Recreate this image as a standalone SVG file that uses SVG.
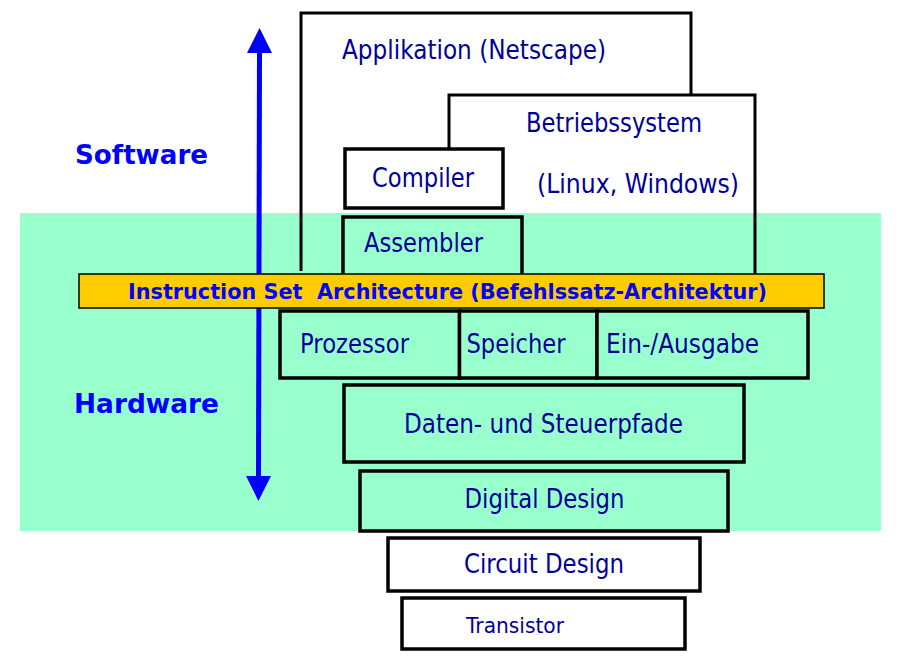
<svg xmlns="http://www.w3.org/2000/svg" width="909" height="656" viewBox="0 0 909 656">
<style>
.t{font-family:'DejaVu Sans','Liberation Sans',sans-serif;font-size:26px;fill:#000099}
.lbl{font-family:'DejaVu Sans','Liberation Sans',sans-serif;font-size:26px;font-weight:bold;fill:#0000ff}
.isa{font-family:'DejaVu Sans','Liberation Sans',sans-serif;font-size:22px;font-weight:bold;fill:#0000ff;white-space:pre}
.box{stroke:#000;stroke-width:3.5;fill:#99ffcc}
.wbox{stroke:#000;stroke-width:3.5;fill:#fff}
.open{stroke:#000;stroke-width:3;fill:none}
</style>
<defs>
<marker id="ah" markerUnits="userSpaceOnUse" markerWidth="26" markerHeight="26" refX="0" refY="12.5" orient="auto-start-reverse" viewBox="0 0 26 25">
<path d="M0,0 L25,12.5 L0,25 z" fill="#0000ff"/>
</marker>
</defs>
<rect id="hw-band" x="20" y="213" width="861" height="318" fill="#99ffcc"/>
<g id="applikation">
<path class="open" d="M301,271 V13 H691 V95"/>
<text class="t" x="342" y="59" textLength="264" lengthAdjust="spacingAndGlyphs">Applikation (Netscape)</text>
</g>
<g id="betriebssystem">
<path class="open" d="M449,149 V95 H755 V274"/>
<text class="t" x="526" y="132" textLength="176" lengthAdjust="spacingAndGlyphs">Betriebssystem</text>
<text class="t" x="537" y="193" textLength="202" lengthAdjust="spacingAndGlyphs">(Linux, Windows)</text>
</g>
<g id="compiler">
<rect class="wbox" x="345" y="149" width="158" height="59"/>
<text class="t" x="372" y="187" textLength="102" lengthAdjust="spacingAndGlyphs">Compiler</text>
</g>
<g id="assembler">
<rect class="box" x="343" y="217" width="179" height="70"/>
<text class="t" x="364" y="252" textLength="119" lengthAdjust="spacingAndGlyphs">Assembler</text>
</g>
<g id="labels">
<text class="lbl" x="75" y="164" textLength="133" lengthAdjust="spacingAndGlyphs">Software</text>
<text class="lbl" x="74" y="413" textLength="145" lengthAdjust="spacingAndGlyphs">Hardware</text>
</g>
<g id="connectors">
<line x1="259.5" y1="53" x2="258.5" y2="476" stroke="#0000ff" stroke-width="5" marker-start="url(#ah)" marker-end="url(#ah)"/>
</g>
<g id="isa">
<rect x="79" y="274" width="745" height="34" fill="#ffcc00" stroke="#000" stroke-width="1.5"/>
<text class="isa" x="128" y="299" textLength="639" lengthAdjust="spacingAndGlyphs" xml:space="preserve">Instruction Set  Architecture (Befehlssatz-Architektur)</text>
</g>
<g id="prozessor">
<rect class="box" x="280" y="311" width="179.5" height="67"/>
<text class="t" x="300" y="353" textLength="109" lengthAdjust="spacingAndGlyphs">Prozessor</text>
</g>
<g id="speicher">
<rect class="box" x="459.5" y="311" width="137.5" height="67"/>
<text class="t" x="466.5" y="353" textLength="99" lengthAdjust="spacingAndGlyphs">Speicher</text>
</g>
<g id="ein-ausgabe">
<rect class="box" x="597" y="311" width="211" height="67"/>
<text class="t" x="606" y="353" textLength="153" lengthAdjust="spacingAndGlyphs">Ein-/Ausgabe</text>
</g>
<g id="daten">
<rect class="box" x="344" y="385" width="400" height="77"/>
<text class="t" x="404" y="433" textLength="279" lengthAdjust="spacingAndGlyphs">Daten- und Steuerpfade</text>
</g>
<g id="digital">
<rect class="box" x="360" y="471" width="368" height="60"/>
<text class="t" x="464.5" y="508" textLength="160" lengthAdjust="spacingAndGlyphs">Digital Design</text>
</g>
<g id="circuit">
<rect class="wbox" x="388" y="538" width="312" height="53"/>
<text class="t" x="464" y="573" textLength="160" lengthAdjust="spacingAndGlyphs">Circuit Design</text>
</g>
<g id="transistor">
<rect class="wbox" x="402" y="598" width="283" height="51"/>
<text class="t" x="466" y="632.5" textLength="98" lengthAdjust="spacingAndGlyphs" style="font-size:22px">Transistor</text>
</g>
</svg>
